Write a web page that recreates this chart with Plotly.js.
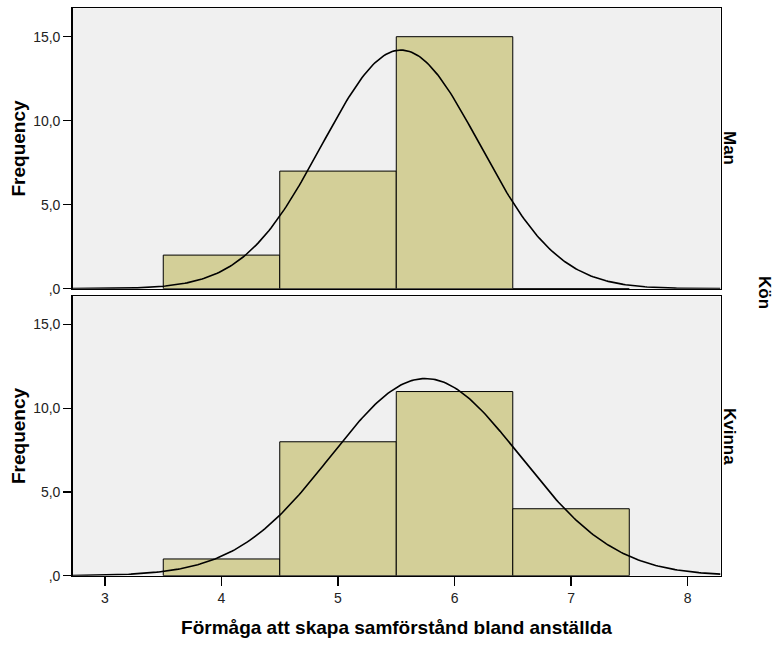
<!DOCTYPE html>
<html>
<head>
<meta charset="utf-8">
<script src="https://cdn.plot.ly/plotly-3.0.1.min.js"></script>
<style>html,body{margin:0;padding:0;background:#fff;}#chart{width:775px;height:646px;}</style>
</head>
<body>
<div id="chart"></div>
<script>
// Bin centres and frequencies
const binCenters = [4, 5, 6, 7];
const manFreq = [2, 7, 15, 0];
const kvinnaFreq = [1, 8, 11, 4];
const groupLabels = ["Man", "Kvinna"];
// Fitted normal curve parameters
const manN = 24, manMean = 5.54, manSd = 0.674;
const kvinnaN = 24, kvinnaMean = 5.75, kvinnaSd = 0.813;
const xTickVals = [3, 4, 5, 6, 7, 8];
const xTickText = ["3", "4", "5", "6", "7", "8"];
const yTickVals = [0, 5, 10, 15];
const yTickText = [",0", "5,0", "10,0", "15,0"];

const xMin = 2.721, xMax = 8.283;
function normalCurve(n, mean, sd) {
  const xs = [], ys = [];
  for (let i = 0; i <= 300; i++) {
    const x = xMin + (xMax - xMin) * i / 300;
    xs.push(x);
    ys.push(n * 1 / (sd * Math.sqrt(2 * Math.PI)) * Math.exp(-0.5 * Math.pow((x - mean) / sd, 2)));
  }
  return {xs, ys};
}
const manCurve = normalCurve(manN, manMean, manSd);
const kvCurve = normalCurve(kvinnaN, kvinnaMean, kvinnaSd);

const barColor = "#D3CF98";
const FONT = "Liberation Sans, Arial, sans-serif";

const traces = [
  {type: "bar", x: binCenters, y: manFreq, width: 1, xaxis: "x", yaxis: "y",
   marker: {color: barColor, line: {color: "#000", width: 1}}, hoverinfo: "x+y"},
  {type: "scatter", mode: "lines", x: manCurve.xs, y: manCurve.ys, xaxis: "x", yaxis: "y",
   line: {color: "#000", width: 1.6}, hoverinfo: "skip"},
  {type: "bar", x: binCenters, y: kvinnaFreq, width: 1, xaxis: "x2", yaxis: "y2",
   marker: {color: barColor, line: {color: "#000", width: 1}}, hoverinfo: "x+y"},
  {type: "scatter", mode: "lines", x: kvCurve.xs, y: kvCurve.ys, xaxis: "x2", yaxis: "y2",
   line: {color: "#000", width: 1.6}, hoverinfo: "skip"}
];

const xDom = [72.5 / 775, 720.5 / 775];
const commonX = {
  range: [xMin, xMax], showgrid: false, zeroline: false, showline: true, mirror: true,
  linecolor: "#000", linewidth: 1.3, tickvals: xTickVals, ticktext: xTickText,
  ticks: "outside", ticklen: 9, tickwidth: 1.3, tickcolor: "#000",
  tickfont: {family: FONT, size: 14, color: "#222"}, domain: xDom, fixedrange: true
};
const commonY = {
  range: [0, 16.69], showgrid: false, zeroline: false, showline: true, mirror: true,
  linecolor: "#000", linewidth: 1.3, tickvals: yTickVals, ticktext: yTickText,
  ticks: "outside", ticklen: 8, tickwidth: 1.3, tickcolor: "#000",
  tickfont: {family: FONT, size: 14, color: "#222"}, fixedrange: true
};
const titleFont = {family: FONT, size: 19, color: "#000", weight: "bold"};
const stripFont = {family: FONT, size: 17, color: "#000"};

const layout = {
  width: 775, height: 646, margin: {l: 0, r: 0, t: 0, b: 0},
  paper_bgcolor: "#fff", plot_bgcolor: "#F0F0F0", showlegend: false, bargap: 0,
  xaxis: Object.assign({}, commonX, {anchor: "y", showticklabels: false, ticks: ""}),
  yaxis: Object.assign({}, commonY, {anchor: "x", domain: [1 - 288.7 / 646, 1 - 8.3 / 646],
    title: {text: "Frequency", font: titleFont, standoff: 2}}),
  xaxis2: Object.assign({}, commonX, {anchor: "y2",
    title: {text: "Förmåga att skapa samförstånd bland anställda", font: titleFont, standoff: 16}}),
  yaxis2: Object.assign({}, commonY, {anchor: "x2", domain: [1 - 575.7 / 646, 1 - 296.3 / 646],
    title: {text: "Frequency", font: titleFont, standoff: 2}}),
  annotations: [
    {text: "<b>" + groupLabels[0] + "</b>", xref: "paper", yref: "paper", x: 730 / 775, y: 1 - 148 / 646,
     xanchor: "center", yanchor: "middle", textangle: 90, showarrow: false, font: stripFont},
    {text: "<b>" + groupLabels[1] + "</b>", xref: "paper", yref: "paper", x: 730 / 775, y: 1 - 436 / 646,
     xanchor: "center", yanchor: "middle", textangle: 90, showarrow: false, font: stripFont},
    {text: "<b>Kön</b>", xref: "paper", yref: "paper", x: 765 / 775, y: 1 - 292 / 646,
     xanchor: "center", yanchor: "middle", textangle: 90, showarrow: false, font: stripFont}
  ]
};

Plotly.newPlot("chart", traces, layout, {displayModeBar: false, staticPlot: true});
</script>
</body>
</html>
